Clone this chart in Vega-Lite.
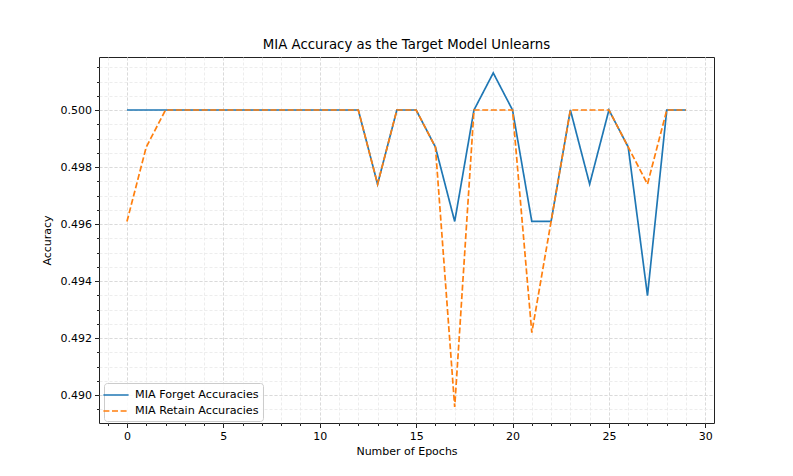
{
  "$schema": "https://vega.github.io/schema/vega-lite/v6.json",
  "autosize": {"type": "none"},
  "width": 615,
  "height": 366,
  "padding": {"left": 99, "top": 57, "right": 79, "bottom": 53},
  "background": "white",
  "title": {"text": "MIA Accuracy as the Target Model Unlearns", "font": "DejaVu Sans", "fontSize": 13.3, "fontWeight": "normal", "color": "black", "offset": 6, "anchor": "middle"},
  "config": {
    "view": {"stroke": "#222", "strokeWidth": 1},
    "axis": {"labelFont": "DejaVu Sans", "labelFontSize": 11, "labelColor": "black", "titleFont": "DejaVu Sans", "titleFontSize": 11, "titleFontWeight": "normal", "titleColor": "black", "tickColor": "#222", "domain": false}
  },
  "data": {"values": [
    {"epoch": 0, "series": "MIA Forget Accuracies", "accuracy": 0.5},
    {"epoch": 1, "series": "MIA Forget Accuracies", "accuracy": 0.5},
    {"epoch": 2, "series": "MIA Forget Accuracies", "accuracy": 0.5},
    {"epoch": 3, "series": "MIA Forget Accuracies", "accuracy": 0.5},
    {"epoch": 4, "series": "MIA Forget Accuracies", "accuracy": 0.5},
    {"epoch": 5, "series": "MIA Forget Accuracies", "accuracy": 0.5},
    {"epoch": 6, "series": "MIA Forget Accuracies", "accuracy": 0.5},
    {"epoch": 7, "series": "MIA Forget Accuracies", "accuracy": 0.5},
    {"epoch": 8, "series": "MIA Forget Accuracies", "accuracy": 0.5},
    {"epoch": 9, "series": "MIA Forget Accuracies", "accuracy": 0.5},
    {"epoch": 10, "series": "MIA Forget Accuracies", "accuracy": 0.5},
    {"epoch": 11, "series": "MIA Forget Accuracies", "accuracy": 0.5},
    {"epoch": 12, "series": "MIA Forget Accuracies", "accuracy": 0.5},
    {"epoch": 13, "series": "MIA Forget Accuracies", "accuracy": 0.4974},
    {"epoch": 14, "series": "MIA Forget Accuracies", "accuracy": 0.5},
    {"epoch": 15, "series": "MIA Forget Accuracies", "accuracy": 0.5},
    {"epoch": 16, "series": "MIA Forget Accuracies", "accuracy": 0.4987},
    {"epoch": 17, "series": "MIA Forget Accuracies", "accuracy": 0.49609},
    {"epoch": 18, "series": "MIA Forget Accuracies", "accuracy": 0.5},
    {"epoch": 19, "series": "MIA Forget Accuracies", "accuracy": 0.5013},
    {"epoch": 20, "series": "MIA Forget Accuracies", "accuracy": 0.5},
    {"epoch": 21, "series": "MIA Forget Accuracies", "accuracy": 0.49609},
    {"epoch": 22, "series": "MIA Forget Accuracies", "accuracy": 0.49609},
    {"epoch": 23, "series": "MIA Forget Accuracies", "accuracy": 0.5},
    {"epoch": 24, "series": "MIA Forget Accuracies", "accuracy": 0.4974},
    {"epoch": 25, "series": "MIA Forget Accuracies", "accuracy": 0.5},
    {"epoch": 26, "series": "MIA Forget Accuracies", "accuracy": 0.4987},
    {"epoch": 27, "series": "MIA Forget Accuracies", "accuracy": 0.49349},
    {"epoch": 28, "series": "MIA Forget Accuracies", "accuracy": 0.5},
    {"epoch": 29, "series": "MIA Forget Accuracies", "accuracy": 0.5},
    {"epoch": 0, "series": "MIA Retain Accuracies", "accuracy": 0.49609},
    {"epoch": 1, "series": "MIA Retain Accuracies", "accuracy": 0.4987},
    {"epoch": 2, "series": "MIA Retain Accuracies", "accuracy": 0.5},
    {"epoch": 3, "series": "MIA Retain Accuracies", "accuracy": 0.5},
    {"epoch": 4, "series": "MIA Retain Accuracies", "accuracy": 0.5},
    {"epoch": 5, "series": "MIA Retain Accuracies", "accuracy": 0.5},
    {"epoch": 6, "series": "MIA Retain Accuracies", "accuracy": 0.5},
    {"epoch": 7, "series": "MIA Retain Accuracies", "accuracy": 0.5},
    {"epoch": 8, "series": "MIA Retain Accuracies", "accuracy": 0.5},
    {"epoch": 9, "series": "MIA Retain Accuracies", "accuracy": 0.5},
    {"epoch": 10, "series": "MIA Retain Accuracies", "accuracy": 0.5},
    {"epoch": 11, "series": "MIA Retain Accuracies", "accuracy": 0.5},
    {"epoch": 12, "series": "MIA Retain Accuracies", "accuracy": 0.5},
    {"epoch": 13, "series": "MIA Retain Accuracies", "accuracy": 0.4974},
    {"epoch": 14, "series": "MIA Retain Accuracies", "accuracy": 0.5},
    {"epoch": 15, "series": "MIA Retain Accuracies", "accuracy": 0.5},
    {"epoch": 16, "series": "MIA Retain Accuracies", "accuracy": 0.4987},
    {"epoch": 17, "series": "MIA Retain Accuracies", "accuracy": 0.48958},
    {"epoch": 18, "series": "MIA Retain Accuracies", "accuracy": 0.5},
    {"epoch": 19, "series": "MIA Retain Accuracies", "accuracy": 0.5},
    {"epoch": 20, "series": "MIA Retain Accuracies", "accuracy": 0.5},
    {"epoch": 21, "series": "MIA Retain Accuracies", "accuracy": 0.49219},
    {"epoch": 22, "series": "MIA Retain Accuracies", "accuracy": 0.49609},
    {"epoch": 23, "series": "MIA Retain Accuracies", "accuracy": 0.5},
    {"epoch": 24, "series": "MIA Retain Accuracies", "accuracy": 0.5},
    {"epoch": 25, "series": "MIA Retain Accuracies", "accuracy": 0.5},
    {"epoch": 26, "series": "MIA Retain Accuracies", "accuracy": 0.4987},
    {"epoch": 27, "series": "MIA Retain Accuracies", "accuracy": 0.4974},
    {"epoch": 28, "series": "MIA Retain Accuracies", "accuracy": 0.5},
    {"epoch": 29, "series": "MIA Retain Accuracies", "accuracy": 0.5}
  ]},
  "resolve": {"axis": {"x": "independent", "y": "independent"}},
  "layer": [
    {
      "mark": {"type": "point", "opacity": 0},
      "encoding": {
        "x": {"field": "epoch", "type": "quantitative", "scale": {"domain": [-1.45, 30.45], "nice": false, "zero": false},
          "axis": {"orient": "bottom", "values": [-1,0,1,2,3,4,5,6,7,8,9,10,11,12,13,14,15,16,17,18,19,20,21,22,23,24,25,26,27,28,29,30], "labels": false, "title": null, "tickSize": 2.5, "grid": true, "gridColor": "#e8e8e8", "gridDash": [3, 2], "gridWidth": 0.8}},
        "y": {"field": "accuracy", "type": "quantitative", "scale": {"domain": [0.48902, 0.50186], "nice": false, "zero": false},
          "axis": {"orient": "left", "values": [0.4895,0.49,0.4905,0.491,0.4915,0.492,0.4925,0.493,0.4935,0.494,0.4945,0.495,0.4955,0.496,0.4965,0.497,0.4975,0.498,0.4985,0.499,0.4995,0.5,0.5005,0.501,0.5015], "labels": false, "title": null, "tickSize": 2.5, "grid": true, "gridColor": "#e8e8e8", "gridDash": [3, 2], "gridWidth": 0.8}}
      }
    },
    {
      "mark": {"type": "line", "strokeWidth": 1.7},
      "encoding": {
        "x": {"field": "epoch", "type": "quantitative", "scale": {"domain": [-1.45, 30.45], "nice": false, "zero": false},
          "axis": {"orient": "bottom", "values": [0, 5, 10, 15, 20, 25, 30], "title": "Number of Epochs", "tickSize": 4.5, "labelPadding": 3, "titlePadding": 4, "grid": true, "gridColor": "#d4d4d4", "gridDash": [3, 2], "gridWidth": 0.8}},
        "y": {"field": "accuracy", "type": "quantitative", "scale": {"domain": [0.48902, 0.50186], "nice": false, "zero": false},
          "axis": {"orient": "left", "values": [0.49, 0.492, 0.494, 0.496, 0.498, 0.5], "format": ".3f", "title": "Accuracy", "tickSize": 4.5, "labelPadding": 3, "titlePadding": 8, "grid": true, "gridColor": "#d4d4d4", "gridDash": [3, 2], "gridWidth": 0.8}},
        "color": {"field": "series", "type": "nominal",
          "scale": {"domain": ["MIA Forget Accuracies", "MIA Retain Accuracies"], "range": ["#1f77b4", "#ff7f0e"]},
          "legend": {"orient": "none", "legendX": 5, "legendY": 326, "title": null, "symbolType": "M-1.8,0H1.8", "symbolStrokeWidth": 1.7, "symbolSize": 196, "labelFont": "DejaVu Sans", "labelFontSize": 11.2, "labelColor": "black", "fillColor": "rgba(255,255,255,0.85)", "strokeColor": "#cccccc", "padding": 4, "cornerRadius": 3, "rowPadding": 2, "labelOffset": 11}},
        "strokeDash": {"field": "series", "type": "nominal",
          "scale": {"domain": ["MIA Forget Accuracies", "MIA Retain Accuracies"], "range": [[1, 0], [6, 2.6]]},
          "legend": null}
      }
    }
  ]
}
